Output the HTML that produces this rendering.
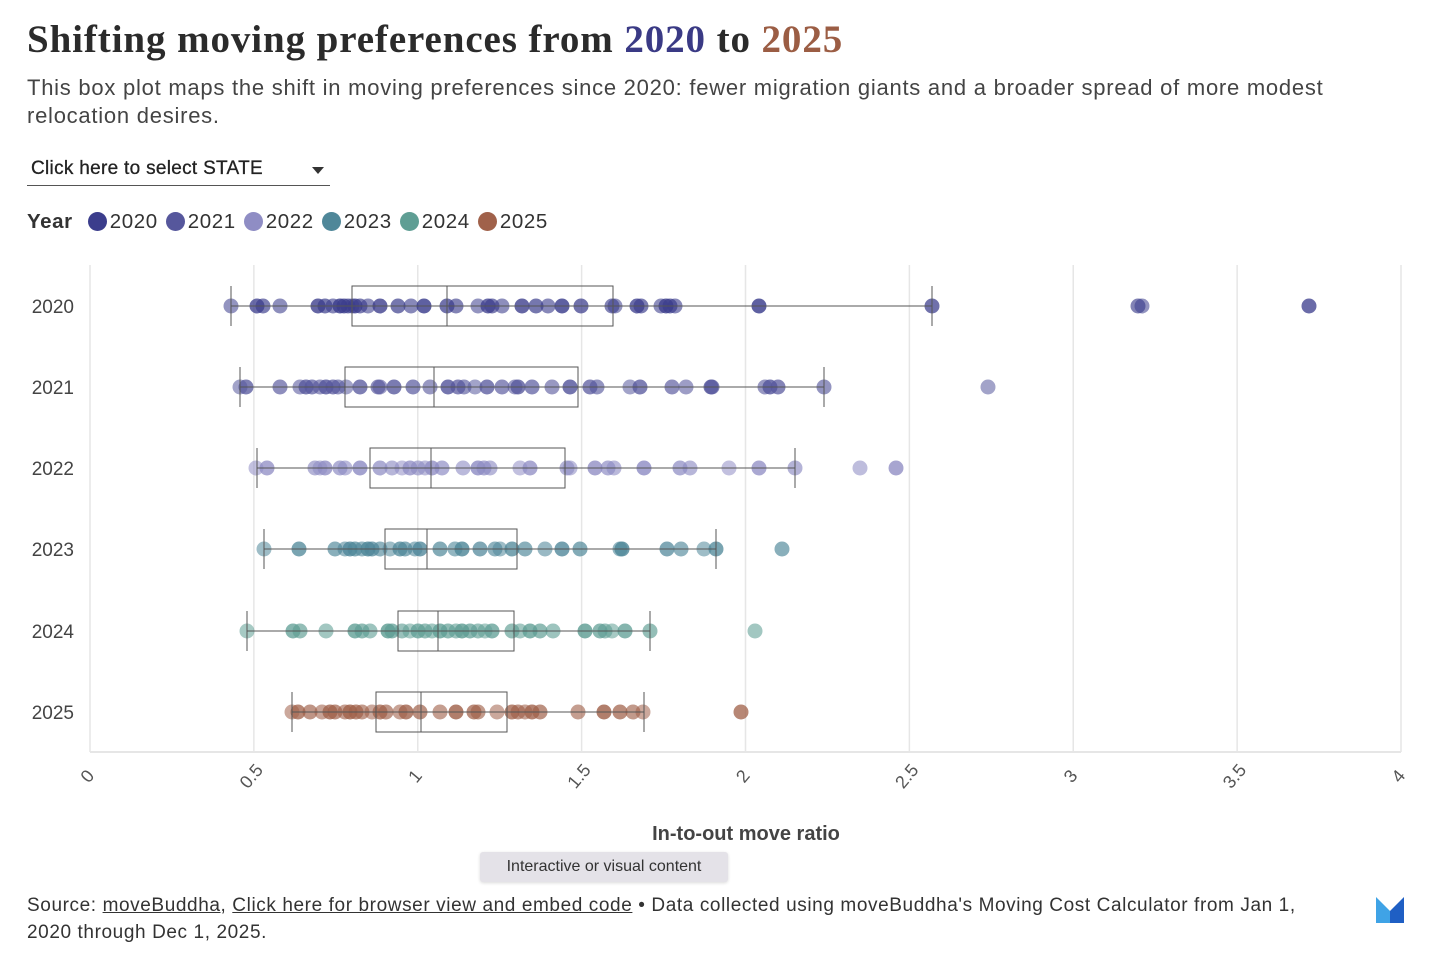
<!DOCTYPE html>
<html><head><meta charset="utf-8"><style>
body{margin:0;width:1440px;height:963px;background:#fff;overflow:hidden;font-family:"Liberation Sans",sans-serif;color:#333}
.t{position:absolute;left:27px;top:17px;font:bold 39px "Liberation Serif",serif;color:#2b2b2b;letter-spacing:0.9px;white-space:nowrap}
.s{position:absolute;left:27px;top:74px;font-size:22px;line-height:28px;color:#444;width:1395px;letter-spacing:0.75px}
.dd{position:absolute;left:27px;top:158px;width:303px;height:28px;border-bottom:1px solid #555;font-size:19px;color:#222;padding-left:4px;box-sizing:border-box;letter-spacing:0.3px;-webkit-text-stroke:0.3px #222}
.dd:after{content:"";position:absolute;right:6px;top:9px;border:6px solid transparent;border-top:7px solid #333}
.lg{position:absolute;left:27px;top:210px;font-size:20.5px;color:#333;letter-spacing:0.6px}
.lg b{font-weight:bold;margin-right:7px}
.lg i{display:inline-block;width:19px;height:19px;border-radius:50%;vertical-align:-3px;margin:0 3px 0 8px}
.ft{position:absolute;left:27px;top:892px;font-size:19px;line-height:27px;color:#333;width:1310px;letter-spacing:0.6px}
.ft u{text-decoration:underline}
.tip{position:absolute;left:480px;top:852px;width:248px;height:30px;background:#e4e2e8;border-radius:3px;font-size:16px;color:#333;text-align:center;line-height:30px;box-shadow:0 1px 3px rgba(0,0,0,.15)}
</style></head><body>
<div class="t">Shifting moving preferences from <span style="color:#3a3a85">2020</span> to <span style="color:#9b5d44">2025</span></div>
<div class="s">This box plot maps the shift in moving preferences since 2020: fewer migration giants and a broader spread of more modest relocation desires.</div>
<div class="dd">Click here to select STATE</div>
<div class="lg"><b>Year</b><i style="background:#3b3d8c"></i>2020<i style="background:#56579c"></i>2021<i style="background:#8f8dc4"></i>2022<i style="background:#4f8799"></i>2023<i style="background:#5f9e94"></i>2024<i style="background:#a0614a"></i>2025</div>
<svg id="c" width="1440" height="963" style="position:absolute;left:0;top:0" xmlns="http://www.w3.org/2000/svg" font-family="Liberation Sans, sans-serif"></svg>
<div class="tip">Interactive or visual content</div>
<div class="ft">Source: <u>moveBuddha</u>, <u>Click here for browser view and embed code</u> • Data collected using moveBuddha's Moving Cost Calculator from Jan 1, 2020 through Dec 1, 2025.</div>
<svg width="30" height="26" style="position:absolute;left:1376px;top:897px"><polygon points="0,0 14,14 14,26 0,26" fill="#3fa3e6"/><polygon points="14,14 28,0 28,26 14,26" fill="#1f5fc4"/></svg>
<script>
var s=document.getElementById('c'),h='';
var X=function(v){return 90+v*327.75};
for(var i=0;i<=8;i++){var x=X(i/2);h+='<line x1="'+x+'" y1="265" x2="'+x+'" y2="752" stroke="#e6e6e6" stroke-width="1.5"/>';
h+='<text transform="translate('+(x+2)+',780) rotate(-50)" text-anchor="middle" font-size="18" fill="#555">'+(i/2)+'</text>';}
h+='<line x1="90" y1="752" x2="1401" y2="752" stroke="#e6e6e6" stroke-width="2"/>';
h+='<text x="746" y="840" text-anchor="middle" font-size="20" font-weight="bold" fill="#444">In-to-out move ratio</text>';
var rows=[
[306,'#3b3d8c',[231,932],[352,613],447,[231,257,263,280,318,325,333,340,344,348,352,355,360,368,380,398,411,424,447,456,478,488,492,502,522,536,548,562,581,612,615,637,641,661,666,670,675,759,932,1138,1142,1309]],
[387,'#56579c',[240,824],[345,578],434,[240,246,280,300,306,312,320,326,333,338,346,360,378,380,394,413,430,448,458,464,475,487,502,515,518,532,552,570,590,597,630,640,672,686,711,712,765,770,778,824,988]],
[468,'#8f8dc4',[257,795],[370,565],431,[256,267,315,320,325,340,345,360,380,392,402,410,418,425,432,442,463,478,484,490,520,530,567,570,595,608,614,644,680,690,729,759,795,860,896]],
[549,'#4f8799',[264,716],[385,517],427,[264,299,335,345,350,355,362,368,372,380,390,400,405,415,420,440,455,462,480,495,500,512,525,545,562,580,620,622,667,681,704,716,782]],
[631,'#5f9e94',[247,650],[398,514],438,[247,293,300,326,355,362,370,388,392,402,410,418,425,432,440,448,456,462,470,478,485,492,512,520,530,540,553,585,600,605,612,625,650,755]],
[712,'#a0614a',[292,644],[376,507],421,[292,298,310,322,330,335,345,350,356,362,372,380,386,400,406,420,440,456,474,478,497,512,518,525,532,540,578,604,620,633,643,741]]];
var yr=2020;
rows.forEach(function(r){var y=r[0],c=r[1];
h+='<text x="74" y="'+(y+7)+'" text-anchor="end" font-size="19" fill="#444">'+(yr++)+'</text>';
r[5].forEach(function(x,k){var o=(k*37%10)/10*0.3+0.55;h+='<circle cx="'+x+'" cy="'+y+'" r="7.5" fill="'+c+'" fill-opacity="'+o.toFixed(2)+'"/>';});
h+='<line x1="'+r[2][0]+'" y1="'+y+'" x2="'+r[2][1]+'" y2="'+y+'" stroke="#555" stroke-width="1"/>';
h+='<line x1="'+r[2][0]+'" y1="'+(y-20)+'" x2="'+r[2][0]+'" y2="'+(y+20)+'" stroke="#555"/>';
h+='<line x1="'+r[2][1]+'" y1="'+(y-20)+'" x2="'+r[2][1]+'" y2="'+(y+20)+'" stroke="#555"/>';
h+='<rect x="'+r[3][0]+'" y="'+(y-20)+'" width="'+(r[3][1]-r[3][0])+'" height="40" fill="none" stroke="#555"/>';
h+='<line x1="'+r[4]+'" y1="'+(y-20)+'" x2="'+r[4]+'" y2="'+(y+20)+'" stroke="#555"/>';});
s.innerHTML=h;
</script>
</body></html>
